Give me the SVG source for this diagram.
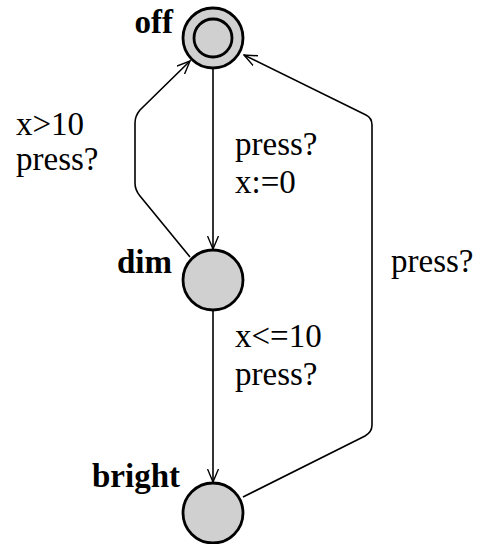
<svg xmlns="http://www.w3.org/2000/svg" width="481" height="544" viewBox="0 0 481 544">
<defs>
<style>
.loc{fill:#d0d0d0;stroke:#000;stroke-width:2.8}
.edge{fill:none;stroke:#000;stroke-width:1.6;marker-end:url(#arr)}
.name{font-family:"Liberation Serif",serif;font-weight:bold;font-size:33px;fill:#000;text-anchor:end}
.lbl{font-family:"Liberation Serif",serif;font-size:33px;fill:#000}
</style>
<marker id="arr" viewBox="0 0 14 12" refX="13" refY="6" markerWidth="14" markerHeight="12" markerUnits="userSpaceOnUse" orient="auto">
<path d="M0,0.5 L13,6 L0,11.5" fill="none" stroke="#000" stroke-width="1.4"/>
</marker>
</defs>
<rect width="481" height="544" fill="#fff"/>
<g id="connectors">
<path class="edge" d="M213,68 L213,249"/>
<path class="edge" d="M213,310 L213,482"/>
<path class="edge" d="M190,257 L140,196 Q135,190 135,183 L135,123 Q135,116 140,110 L190,61"/>
<path class="edge" d="M243,497 L365,436 Q372,432 372,425 L372,125 Q372,118 366,115 L244,55"/>
</g>
<g id="off">
<circle class="loc" cx="213" cy="38" r="30"/>
<circle class="loc" cx="213" cy="38" r="19"/>
<text class="name" x="173" y="33">off</text>
</g>
<g id="dim">
<circle class="loc" cx="213" cy="280" r="30"/>
<text class="name" x="172" y="273">dim</text>
</g>
<g id="bright">
<circle class="loc" cx="213" cy="513" r="30"/>
<text class="name" x="180" y="487">bright</text>
</g>
<g id="labels">
<text class="lbl" x="16" y="135">x&gt;10</text>
<text class="lbl" x="16" y="170">press?</text>
<text class="lbl" x="235" y="155">press?</text>
<text class="lbl" x="235" y="193">x:=0</text>
<text class="lbl" x="235" y="347">x&lt;=10</text>
<text class="lbl" x="235" y="385">press?</text>
<text class="lbl" x="391" y="272">press?</text>
</g>
</svg>
